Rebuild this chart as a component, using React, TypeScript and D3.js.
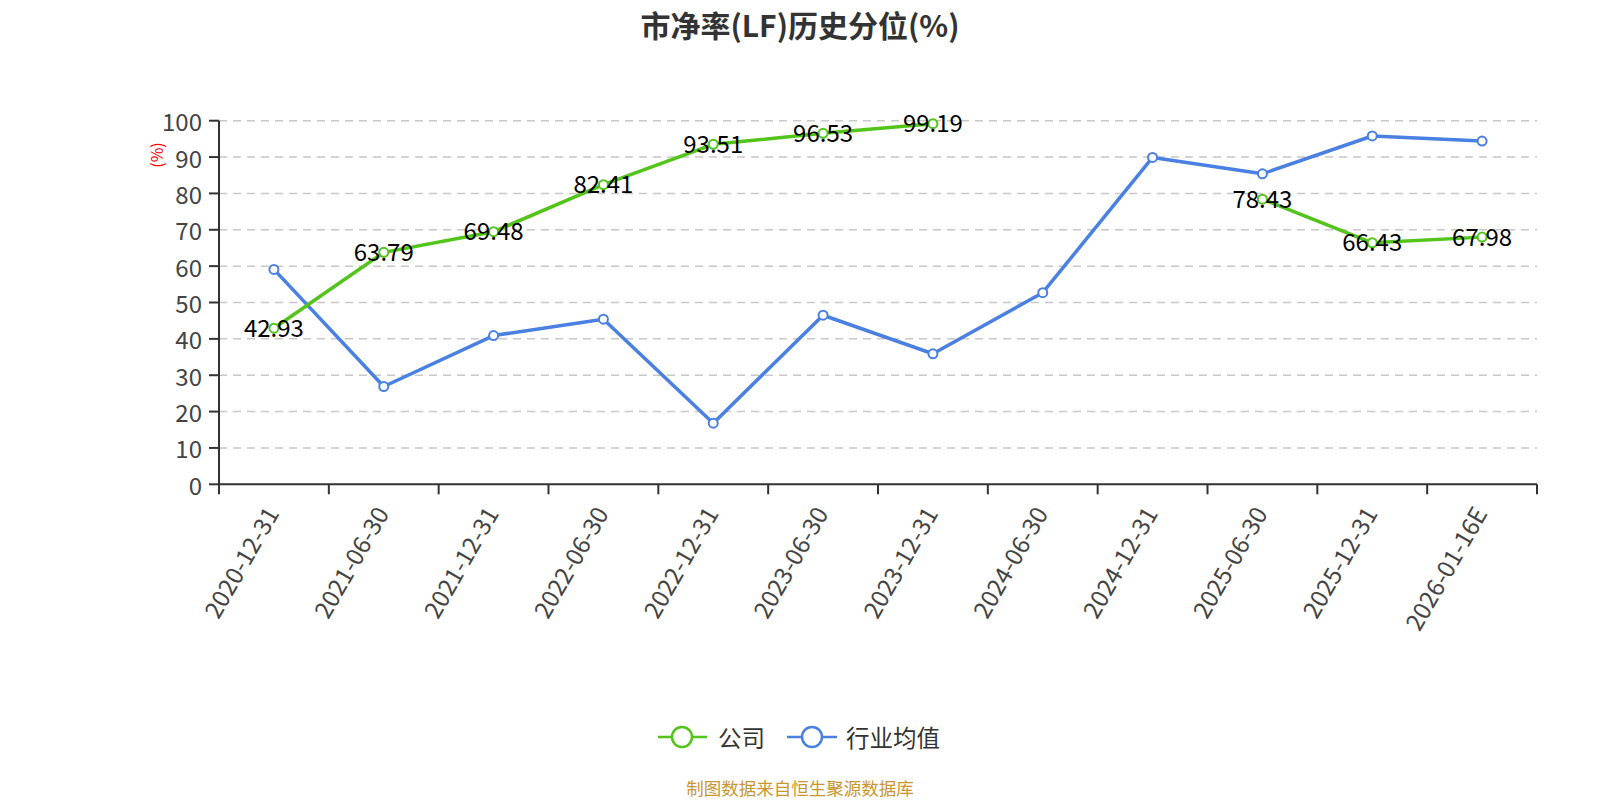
import React from "react";
import * as d3 from "d3";

const categories = ["2020-12-31","2021-06-30","2021-12-31","2022-06-30","2022-12-31","2023-06-30","2023-12-31","2024-06-30","2024-12-31","2025-06-30","2025-12-31","2026-01-16E"];
const company: (number | null)[] = [42.93, 63.79, 69.48, 82.41, 93.51, 96.53, 99.19, null, null, 78.43, 66.43, 67.98];
const industry: number[] = [59.1, 26.9, 40.9, 45.4, 16.8, 46.5, 35.9, 52.7, 89.9, 85.4, 95.8, 94.4];
const yTicks = [0,10,20,30,40,50,60,70,80,90,100];

const W = 1600, H = 800;
const left = 219, right = 1537, top = 120.7, bottom = 484.3;
const GREEN = "#52c41a";
const BLUE = "#4a80e2";
const FONT = "'Noto Sans CJK SC', 'Noto Sans', sans-serif";

if (typeof document !== "undefined") {
  document.body.style.margin = "0";
  document.body.style.overflow = "hidden";
}

export default function App() {
  const x = d3.scaleBand<string>().domain(categories).range([left, right]);
  const y = d3.scaleLinear().domain([0, 100]).range([bottom, top]);
  const cx = (c: string) => (x(c) as number) + x.bandwidth() / 2;
  const line = d3.line<[string, number | null]>()
    .defined(d => d[1] !== null)
    .x(d => cx(d[0]))
    .y(d => y(d[1] as number));
  const compData = categories.map((c, i) => [c, company[i]] as [string, number | null]);
  const indData = categories.map((c, i) => [c, industry[i]] as [string, number | null]);
  const boundaries = categories.map(c => x(c) as number).concat([right]);

  return (
    <svg width={W} height={H} style={{ fontFamily: FONT, display: "block", background: "#fff" }}>
      <text x={800} y={24} textAnchor="middle" dominantBaseline="central" fontSize={30} fontWeight="bold" fill="#333">市净率(LF)历史分位(%)</text>
      <text transform={`translate(156,155) rotate(-90)`} textAnchor="middle" dominantBaseline="central" fontSize={16} fill="#ff0000">(%)</text>
      {yTicks.filter(t => t > 0).map(t => (
        <line key={"g" + t} x1={left} x2={right} y1={y(t)} y2={y(t)} stroke="#c8c8c8" strokeWidth={1.5} strokeDasharray="8,6" />
      ))}
      {yTicks.map(t => (
        <g key={"y" + t}>
          <line x1={left - 10} x2={left} y1={y(t)} y2={y(t)} stroke="#333" strokeWidth={2} />
          <text x={left - 17} y={y(t)} textAnchor="end" dominantBaseline="central" fontSize={24} fill="#444">{t}</text>
        </g>
      ))}
      <line x1={left} x2={left} y1={top} y2={bottom} stroke="#333" strokeWidth={2} />
      <line x1={left} x2={right} y1={bottom} y2={bottom} stroke="#333" strokeWidth={2} />
      {boundaries.map((b, i) => (
        <line key={"t" + i} x1={b} x2={b} y1={bottom} y2={bottom + 10} stroke="#333" strokeWidth={2} />
      ))}
      {categories.map(c => (
        <text key={"x" + c} transform={`translate(${cx(c) - 3},${bottom + 24}) rotate(-60)`} textAnchor="end" dominantBaseline="central" fontSize={24} fill="#444">{c}</text>
      ))}
      <path d={line(indData) || ""} fill="none" stroke={BLUE} strokeWidth={3.5} strokeLinejoin="round" />
      <path d={line(compData) || ""} fill="none" stroke={GREEN} strokeWidth={3.5} strokeLinejoin="round" />
      {indData.map(d => (
        <circle key={"ib" + d[0]} cx={cx(d[0])} cy={y(d[1] as number)} r={4.5} fill="#fff" stroke={BLUE} strokeWidth={2} />
      ))}
      {compData.filter(d => d[1] !== null).map(d => (
        <circle key={"cb" + d[0]} cx={cx(d[0])} cy={y(d[1] as number)} r={4.5} fill="#fff" stroke={GREEN} strokeWidth={2} />
      ))}
      {compData.filter(d => d[1] !== null).map(d => (
        <text key={"cl" + d[0]} x={cx(d[0])} y={y(d[1] as number) - 2} textAnchor="middle" dominantBaseline="central" fontSize={24} fill="#000">{(d[1] as number).toFixed(2)}</text>
      ))}
      <g>
        <line x1={658} x2={707} y1={737} y2={737} stroke={GREEN} strokeWidth={2.5} />
        <circle cx={682} cy={737} r={10} fill="#fff" stroke={GREEN} strokeWidth={2.5} />
        <text x={718} y={737} dominantBaseline="central" fontSize={23.5} fill="#333">公司</text>
        <line x1={787} x2={837} y1={737} y2={737} stroke={BLUE} strokeWidth={2.5} />
        <circle cx={812} cy={737} r={10} fill="#fff" stroke={BLUE} strokeWidth={2.5} />
        <text x={846} y={737} dominantBaseline="central" fontSize={23.5} fill="#333">行业均值</text>
      </g>
      <text x={800} y={787} textAnchor="middle" dominantBaseline="central" fontSize={17.5} fill="#c9962f">制图数据来自恒生聚源数据库</text>
    </svg>
  );
}
